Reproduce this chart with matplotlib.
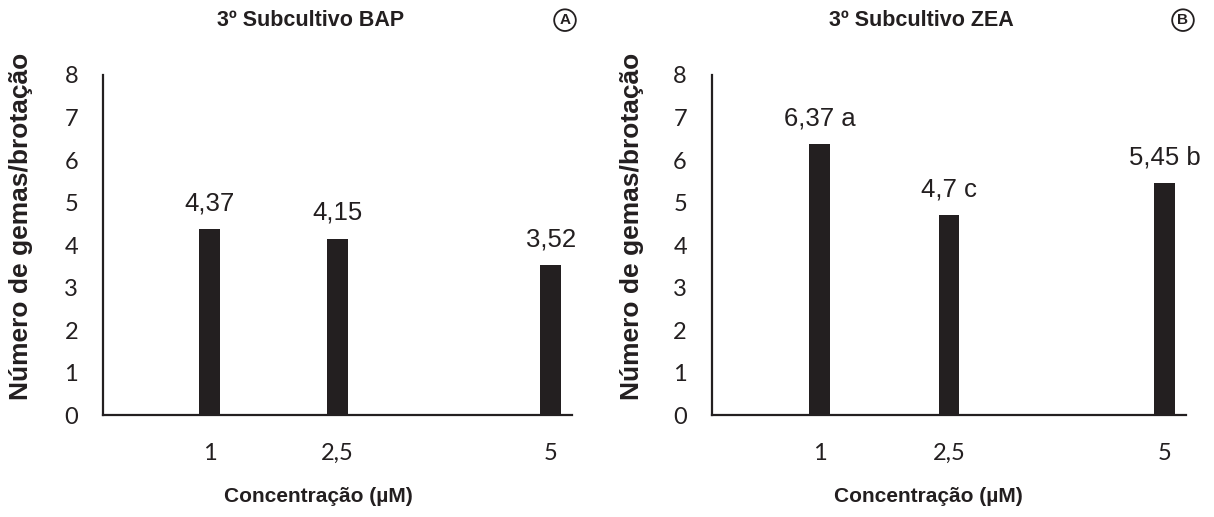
import matplotlib.pyplot as plt

concentrations = [1, 2.5, 5]
conc_labels = ["1", "2,5", "5"]
bap_values = [4.37, 4.15, 3.52]
bap_labels = ["4,37", "4,15", "3,52"]
zea_values = [6.37, 4.7, 5.45]
zea_labels = ["6,37 a", "4,7 c", "5,45 b"]
y_ticks = [0, 1, 2, 3, 4, 5, 6, 7, 8]

panels = [
    ("3º Subcultivo BAP", "A", bap_values, bap_labels),
    ("3º Subcultivo ZEA", "B", zea_values, zea_labels),
]

bar_color = "#231f20"
label_font = "Liberation Sans"
tick_font = "Lato"

fig = plt.figure(figsize=(12.14, 5.17), dpi=100)

boxes = [
    [103 / 1214, 0.197, (572 - 103) / 1214, 0.658],
    [712 / 1214, 0.197, (1186 - 712) / 1214, 0.658],
]
title_x = [311 / 1214, 921 / 1214]
badge_x = [565 / 1214, 1183 / 1214]
ylab_x = [21 / 1214, 632 / 1214]
xlab_x = [318 / 1214, 928 / 1214]

for i, (title, badge, values, labels) in enumerate(panels):
    ax = fig.add_axes(boxes[i])
    ax.bar(concentrations, values, width=0.24, color=bar_color)
    ax.set_xlim(-0.25, 5.25)
    ax.set_ylim(0, 8)

    ax.spines["right"].set_visible(False)
    ax.spines["top"].set_visible(False)
    for side in ["left", "bottom"]:
        ax.spines[side].set_linewidth(1.6)
        ax.spines[side].set_color(bar_color)

    ax.set_xticks(concentrations)
    ax.set_xticklabels(conc_labels)
    ax.set_yticks(y_ticks)
    ax.tick_params(axis="x", length=0, pad=20)
    ax.tick_params(axis="y", length=0, pad=18)
    for lab in ax.get_xticklabels() + ax.get_yticklabels():
        lab.set_fontfamily(tick_font)
        lab.set_fontsize(17)
        lab.set_color("#231f20")

    for x, v, txt in zip(concentrations, values, labels):
        ax.annotate(
            txt,
            (x, v),
            xytext=(0, 10),
            textcoords="offset points",
            ha="center",
            va="bottom",
            fontsize=18.5,
            family=label_font,
            color="#231f20",
        )

    fig.text(title_x[i], 0.961, title, ha="center", va="center",
             fontsize=15.5, fontweight="bold", family=label_font, color="#231f20")
    fig.text(badge_x[i], 0.961, badge, ha="center", va="center",
             fontsize=11, fontweight="bold", family=label_font, color="#231f20",
             bbox=dict(boxstyle="circle,pad=0.25", fc="white", ec="#231f20", lw=1.3))
    fig.text(ylab_x[i], 1 - 226 / 517, "Número de gemas/brotação", rotation=90,
             ha="center", va="center", fontsize=19, fontweight="bold",
             family=label_font, color="#231f20")
    fig.text(xlab_x[i], 1 - 497 / 517, "Concentração (µM)", ha="center", va="center",
             fontsize=15, fontweight="bold", family=label_font, color="#231f20")

fig.savefig("out.png", dpi=100)
